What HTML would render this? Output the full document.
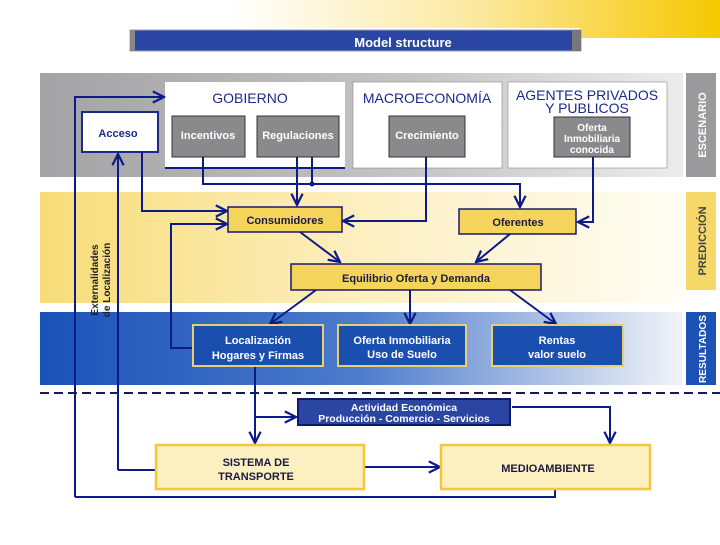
<!DOCTYPE html>
<html><head><meta charset="utf-8"><style>
body{margin:0;width:720px;height:540px;overflow:hidden;background:#fff;font-family:"Liberation Sans",sans-serif}
</style></head><body>
<svg width="720" height="540" viewBox="0 0 720 540" xmlns="http://www.w3.org/2000/svg" font-family="Liberation Sans, sans-serif">
<defs>
<linearGradient id="topY" x1="0" x2="1"><stop offset="0" stop-color="#fff"/><stop offset="0.5" stop-color="#fbe9a0"/><stop offset="1" stop-color="#f6c800"/></linearGradient>
<linearGradient id="gray" x1="0" x2="1"><stop offset="0" stop-color="#a3a3a6"/><stop offset="0.6" stop-color="#c6c6c8"/><stop offset="1" stop-color="#ececec"/></linearGradient>
<linearGradient id="yel" x1="0" x2="1"><stop offset="0" stop-color="#f8dc78"/><stop offset="0.5" stop-color="#fcefc0"/><stop offset="1" stop-color="#fffdf5"/></linearGradient>
<linearGradient id="blu" x1="0" x2="1"><stop offset="0" stop-color="#1a52b8"/><stop offset="0.5" stop-color="#4e7ccc"/><stop offset="1" stop-color="#f2f4f8"/></linearGradient>
<marker id="a" viewBox="0 0 10 10" refX="9" refY="5" markerWidth="7" markerHeight="7" orient="auto"><path d="M1,1 L9,5 L1,9" fill="none" stroke="#0c1a8a" stroke-width="1.6"/></marker>
</defs>
<polygon points="230,0 720,0 720,38 580,38 580,28 230,28" fill="url(#topY)"/>
<rect x="130" y="30" width="451" height="21" fill="#2a46a2" stroke="#9aa0b8"/>
<rect x="130" y="30" width="5" height="21" fill="#888"/><rect x="572" y="30" width="9" height="21" fill="#777"/>
<text x="403" y="47" font-size="13" font-weight="bold" fill="#fff" text-anchor="middle">Model structure</text>

<rect x="40" y="73" width="643" height="104" fill="url(#gray)"/>
<rect x="40" y="192" width="643" height="111" fill="url(#yel)"/>
<rect x="40" y="312" width="643" height="73" fill="url(#blu)"/>
<rect x="686" y="73" width="30" height="104" fill="#9a9a9c"/>
<rect x="686" y="192" width="30" height="98" fill="#f6d86a"/>
<rect x="686" y="312" width="30" height="73" fill="#1c52b4"/>
<text transform="translate(706,125) rotate(-90)" font-size="11" font-weight="bold" fill="#fff" text-anchor="middle">ESCENARIO</text>
<text transform="translate(706,241) rotate(-90)" font-size="11" font-weight="bold" fill="#444" text-anchor="middle">PREDICCIÓN</text>
<text transform="translate(706,349) rotate(-90)" font-size="10" font-weight="bold" fill="#fff" text-anchor="middle" textLength="68" lengthAdjust="spacingAndGlyphs">RESULTADOS</text>
<line x1="40" y1="393" x2="720" y2="393" stroke="#1a1a50" stroke-width="2" stroke-dasharray="9,5"/>

<text transform="translate(98,280) rotate(-90)" font-size="10" font-weight="bold" fill="#222" text-anchor="middle">Externalidades</text>
<text transform="translate(110,280) rotate(-90)" font-size="10" font-weight="bold" fill="#222" text-anchor="middle">de Localización</text>

<rect x="165" y="82" width="180" height="86" fill="#fff"/>
<rect x="353" y="82" width="149" height="86" fill="#fff" stroke="#888" stroke-width="0.6"/>
<rect x="508" y="82" width="159" height="86" fill="#fff" stroke="#888" stroke-width="0.6"/>
<text x="250" y="103" font-size="14" fill="#1a2a8a" text-anchor="middle">GOBIERNO</text>
<text x="427" y="103" font-size="14" fill="#1a2a8a" text-anchor="middle">MACROECONOMÍA</text>
<text x="587" y="100" font-size="14" fill="#1a2a8a" text-anchor="middle">AGENTES PRIVADOS</text>
<text x="587" y="113" font-size="14" fill="#1a2a8a" text-anchor="middle">Y PUBLICOS</text>
<g font-size="11" font-weight="bold" fill="#fff" text-anchor="middle">
<rect x="172" y="116" width="73" height="41" fill="#8a8a8c" stroke="#333"/><text x="208" y="139">Incentivos</text>
<rect x="257" y="116" width="82" height="41" fill="#8a8a8c" stroke="#333"/><text x="298" y="139">Regulaciones</text>
<rect x="389" y="116" width="76" height="41" fill="#8a8a8c" stroke="#333"/><text x="427" y="139">Crecimiento</text>
<rect x="554" y="117" width="76" height="40" fill="#8a8a8c" stroke="#333"/>
<text x="592" y="131" font-size="10">Oferta</text><text x="592" y="142" font-size="10">Inmobiliaria</text><text x="592" y="153" font-size="10">conocida</text>
</g>
<rect x="82" y="112" width="76" height="40" fill="#fff" stroke="#1a2a8a" stroke-width="2"/>
<text x="118" y="137" font-size="11" font-weight="bold" fill="#1a2a8a" text-anchor="middle">Acceso</text>

<g fill="none" stroke="#0c1a8a" stroke-width="2">
<polyline points="75,497 75,97 164,97" marker-end="url(#a)"/>
<polyline points="118,470 118,154" marker-end="url(#a)"/>
<polyline points="142,152 142,211 227,211" marker-end="url(#a)"/>
<polyline points="193,348 171,348 171,224 227,224" marker-end="url(#a)"/>
<line x1="165" y1="168" x2="345" y2="168"/>
<polyline points="203,157 203,184 520,184 520,207" marker-end="url(#a)"/>
<polyline points="297,157 297,205" marker-end="url(#a)"/>
<line x1="312" y1="157" x2="312" y2="184"/>
<polyline points="426,157 426,221 343,221" marker-end="url(#a)"/>
<polyline points="593,157 593,222 578,222" marker-end="url(#a)"/>
<line x1="300" y1="232" x2="340" y2="262" marker-end="url(#a)"/>
<line x1="510" y1="234" x2="476" y2="262" marker-end="url(#a)"/>
<line x1="316" y1="290" x2="270" y2="324" marker-end="url(#a)"/>
<line x1="410" y1="290" x2="410" y2="324" marker-end="url(#a)"/>
<line x1="510" y1="290" x2="556" y2="324" marker-end="url(#a)"/>
<polyline points="255,366 255,443" marker-end="url(#a)"/>
<polyline points="255,417 296,417" marker-end="url(#a)"/>
<polyline points="512,407 610,407 610,443" marker-end="url(#a)"/>
<polyline points="364,467 440,467" marker-end="url(#a)"/>
<polyline points="555,489 555,497 75,497"/>
<polyline points="156,470 118,470"/>
</g>
<circle cx="312" cy="184" r="2.5" fill="#0c1a8a"/>

<g font-size="11" font-weight="bold" fill="#1a1a40" text-anchor="middle">
<rect x="228" y="207" width="114" height="25" fill="#f4d45a" stroke="#1a1a70" stroke-width="1.5"/><text x="285" y="224">Consumidores</text>
<rect x="459" y="209" width="117" height="25" fill="#f4d45a" stroke="#1a1a70" stroke-width="1.5"/><text x="518" y="226">Oferentes</text>
<rect x="291" y="264" width="250" height="26" fill="#f4d45a" stroke="#1a1a70" stroke-width="1.5"/><text x="416" y="282">Equilibrio Oferta y Demanda</text>
</g>
<g font-size="11" font-weight="bold" fill="#fff" text-anchor="middle">
<rect x="193" y="325" width="130" height="41" fill="#1a4fb0" stroke="#e8d070" stroke-width="2"/><text x="258" y="344">Localización</text><text x="258" y="359">Hogares y Firmas</text>
<rect x="338" y="325" width="128" height="41" fill="#1a4fb0" stroke="#e8d070" stroke-width="2"/><text x="402" y="344">Oferta Inmobiliaria</text><text x="402" y="358">Uso de Suelo</text>
<rect x="492" y="325" width="131" height="41" fill="#1a4fb0" stroke="#e8d070" stroke-width="2"/><text x="557" y="344">Rentas</text><text x="557" y="358">valor suelo</text>
<rect x="298" y="399" width="212" height="26" fill="#2a46a2" stroke="#0c1a6a" stroke-width="2"/><text x="404" y="411" font-size="10.5">Actividad Económica</text><text x="404" y="422" font-size="10.5">Producción - Comercio  - Servicios</text>
</g>
<g font-size="11" font-weight="bold" fill="#1a1a40" text-anchor="middle">
<rect x="156" y="445" width="208" height="44" fill="#fdf0c0" stroke="#f0c83a" stroke-width="2.5"/><text x="256" y="466">SISTEMA DE</text><text x="256" y="480">TRANSPORTE</text>
<rect x="441" y="445" width="209" height="44" fill="#fdf0c0" stroke="#f0c83a" stroke-width="2.5"/><text x="548" y="472">MEDIOAMBIENTE</text>
</g>
</svg>
</body></html>
